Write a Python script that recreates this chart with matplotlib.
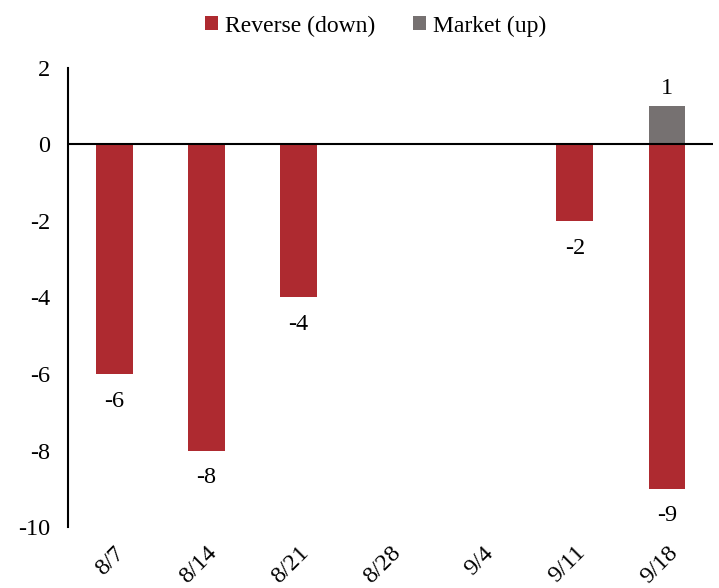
import matplotlib.pyplot as plt
import numpy as np

plt.rcParams['font.family'] = ['Liberation Serif', 'DejaVu Serif']

dates = ["8/7", "8/14", "8/21", "8/28", "9/4", "9/11", "9/18"]
reverse = [-6, -8, -4, 0, 0, -2, -9]
market = [0, 0, 0, 0, 0, 0, 1]

red = "#AE2A30"
gray = "#767171"
fs = 17.5

fig = plt.figure(figsize=(7.19, 5.88), dpi=100)
ax = fig.add_axes([0.0946, 0.1037, 0.8971, 0.7807])

x = np.arange(len(dates))
ax.bar(x, reverse, width=0.4, color=red, label="Reverse (down)", zorder=2)
ax.bar(x, market, width=0.4, color=gray, label="Market (up)", zorder=2)
ax.axhline(0, color="black", linewidth=1.5, zorder=3)

for xi, v in zip(x, reverse):
    if v != 0:
        ax.annotate(str(v), (xi, v), xytext=(0, -12), textcoords="offset points",
                    ha="center", va="top", fontsize=fs)
for xi, v in zip(x, market):
    if v != 0:
        ax.annotate(str(v), (xi, v), xytext=(0, 5), textcoords="offset points",
                    ha="center", va="bottom", fontsize=fs)

ax.set_xlim(-0.5, len(dates) - 0.5)
ax.set_ylim(-10, 2)
ax.set_yticks(range(-10, 3, 2))
ax.set_yticklabels([str(t) for t in range(-10, 3, 2)], fontsize=fs)
ax.set_xticks(x)
ax.set_xticklabels(dates, fontsize=fs, rotation=45, ha="right", rotation_mode="anchor")
ax.tick_params(axis="y", length=0, pad=13)
ax.tick_params(axis="x", length=0, pad=11)

for s in ["top", "right", "bottom"]:
    ax.spines[s].set_visible(False)
ax.spines["left"].set_linewidth(1.5)

fig.legend(loc="upper center", bbox_to_anchor=(0.522, 1.01), ncol=2, frameon=False,
           fontsize=17, handlelength=0.55, handleheight=0.55, handletextpad=0.3,
           columnspacing=1.6)

fig.savefig("out.png", dpi=100)
